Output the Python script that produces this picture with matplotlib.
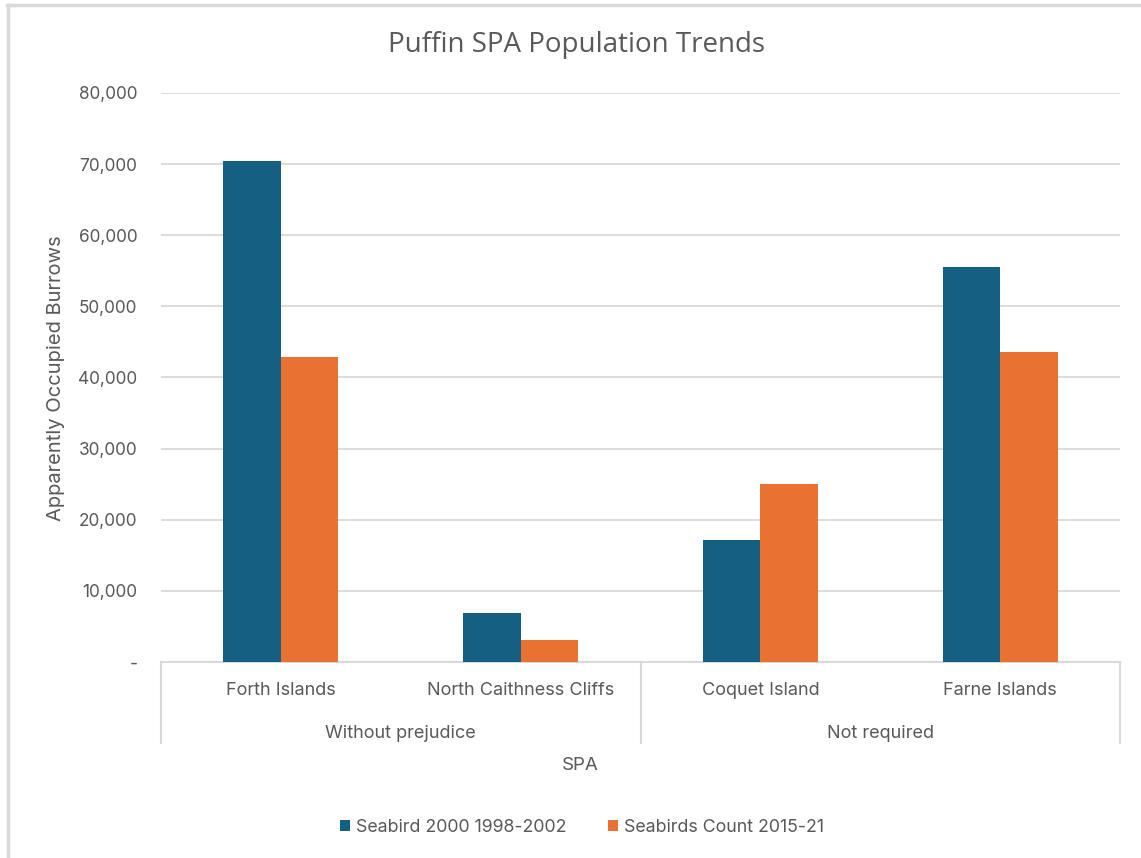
import matplotlib
matplotlib.use("Agg")
import matplotlib.pyplot as plt
from matplotlib.lines import Line2D
import matplotlib.transforms as mtransforms
import numpy as np

categories = ["Forth Islands", "North Caithness Cliffs", "Coquet Island", "Farne Islands"]
groups = ["Without prejudice", "Not required"]
group_spans = [(0, 1), (2, 3)]
series_names = ["Seabird 2000 1998-2002", "Seabirds Count 2015-21"]
seabird2000 = [70400, 6900, 17150, 55550]
seabirds_count = [42900, 3100, 25050, 43600]
yticks = [0, 10000, 20000, 30000, 40000, 50000, 60000, 70000, 80000]
ytick_labels = ["-", "10,000", "20,000", "30,000", "40,000", "50,000", "60,000", "70,000", "80,000"]

BLUE = "#156082"
ORANGE = "#E97132"
TXT = "#595959"
GRID = "#D9D9D9"

plt.rcParams['font.family'] = ['Inter', 'DejaVu Sans']

fig = plt.figure(figsize=(11.41, 8.58), dpi=100)
W, H = 1141, 858
ax = fig.add_axes([161 / W, 1 - 662 / H, (1120 - 161) / W, (662 - 93) / H])

x = np.arange(len(categories))
bw = 0.24
ax.bar(x - bw / 2, seabird2000, bw, color=BLUE, label=series_names[0], zorder=3)
ax.bar(x + bw / 2, seabirds_count, bw, color=ORANGE, label=series_names[1], zorder=3)

ax.set_xlim(-0.5, len(categories) - 0.5)
ax.set_ylim(0, 80000)
ax.set_yticks(yticks)
ax.set_yticklabels(ytick_labels, color=TXT, fontsize=12.4)
ax.yaxis.grid(True, color=GRID, linewidth=1.3, zorder=0)
ax.tick_params(axis='y', length=0, pad=17)
ax.set_axisbelow(True)
for s in ["top", "right", "left"]:
    ax.spines[s].set_visible(False)
ax.spines["bottom"].set_color(GRID)
ax.spines["bottom"].set_linewidth(1.5)

ax.set_xticks(x)
ax.set_xticklabels(categories, color=TXT, fontsize=13)
ax.tick_params(axis='x', length=0, pad=14.5)

trans = mtransforms.blended_transform_factory(ax.transData, ax.transAxes)
depth = (743 - 662) / (662 - 93)
for xb in [-0.5, 1.5, 3.5]:
    ax.add_line(Line2D([xb, xb], [0, -depth], transform=trans, color=GRID,
                       linewidth=1.5, clip_on=False))
for g, (a, b) in zip(groups, group_spans):
    ax.text((a + b) / 2, -(733 - 662) / (662 - 93), g, transform=trans,
            ha='center', va='center', color=TXT, fontsize=13)

fig.text(580 / W, 1 - 765 / H, "SPA", ha='center', va='center', color=TXT, fontsize=13.5)
fig.text(56 / W, 1 - 378 / H, "Apparently Occupied Burrows", rotation=90,
         ha='center', va='center', color=TXT, fontsize=14.5)
fig.text(577 / W, 1 - 45 / H, "Puffin SPA Population Trends", ha='center', va='center',
         color=TXT, fontsize=20, family=['Open Sans', 'DejaVu Sans'])

leg = fig.legend(loc='center', bbox_to_anchor=(582 / W, 1 - 827 / H), ncol=2, frameon=False,
                 fontsize=12.8, handlelength=0.56, handleheight=0.56, columnspacing=2.3,
                 handletextpad=0.34)
for t in leg.get_texts():
    t.set_color(TXT)

# chart border (top and left visible)
fig.add_artist(Line2D([7 / W, 1], [1 - 5 / H, 1 - 5 / H], transform=fig.transFigure,
                      color=GRID, linewidth=2.5))
fig.add_artist(Line2D([8 / W, 8 / W], [1 - 5 / H, 0], transform=fig.transFigure,
                      color=GRID, linewidth=2.5))

fig.savefig("out.png", dpi=100, facecolor="white")
